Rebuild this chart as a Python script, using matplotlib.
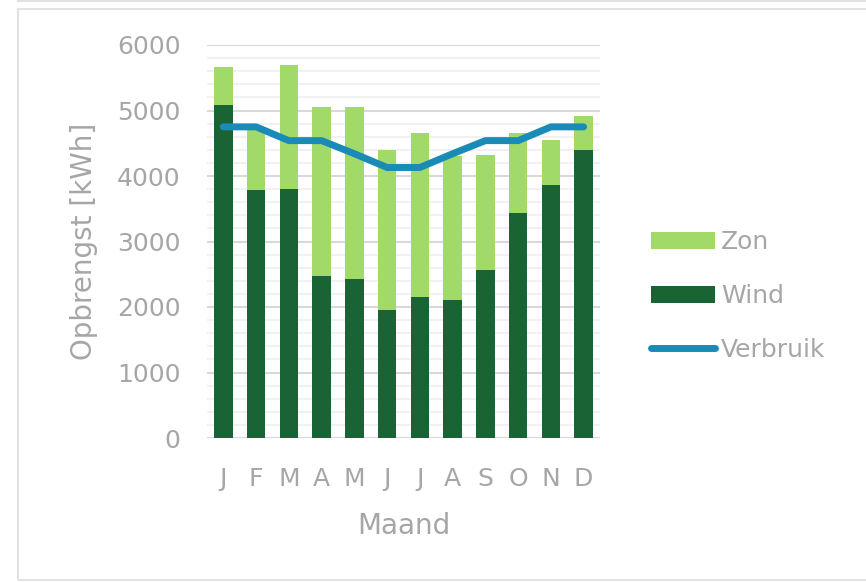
import matplotlib.pyplot as plt
import numpy as np
from matplotlib.patches import Rectangle
from matplotlib.lines import Line2D

plt.rcParams["font.family"] = ["DejaVu Sans"]

MAANDEN = ["J", "F", "M", "A", "M", "J", "J", "A", "S", "O", "N", "D"]
WIND = [5080, 3790, 3800, 2480, 2430, 1950, 2160, 2100, 2560, 3430, 3870, 4400]
TOTAAL = [5660, 4720, 5690, 5060, 5060, 4400, 4660, 4300, 4320, 4660, 4550, 4910]
ZON = [t - w for t, w in zip(TOTAAL, WIND)]
VERBRUIK = [4750, 4750, 4540, 4540, 4340, 4130, 4130, 4340, 4540, 4540, 4750, 4750]

GRIJS = "#a6a6a6"
LICHTGROEN = "#a2da6a"
DONKERGROEN = "#1a6334"
BLAUW = "#1a8bb6"

W, H = 866, 582
fig = plt.figure(figsize=(W / 100, H / 100), dpi=100)

# kader rond de grafiek
fig.add_artist(Line2D([18 / W, 1], [1 - 0.8 / H, 1 - 0.8 / H], color="#e2e2e2", lw=1.5))
fig.add_artist(
    Rectangle((18 / W, 2 / H), 1.0, (H - 11) / H, fill=False, edgecolor="#e2e2e2", lw=1.5)
)

ax = fig.add_axes([207 / W, 1 - 438 / H, (600 - 207) / W, (438 - 45) / H])

x = np.arange(len(MAANDEN))
h_wind = ax.bar(x, WIND, width=0.56, color=DONKERGROEN, zorder=3)
h_zon = ax.bar(x, ZON, width=0.56, bottom=WIND, color=LICHTGROEN, zorder=3)
(h_verbruik,) = ax.plot(x, VERBRUIK, color=BLAUW, lw=5, solid_capstyle="round",
                        solid_joinstyle="round", zorder=4)

ax.set_xlim(-0.5, 11.5)
ax.set_ylim(0, 6000)
ax.set_yticks(np.arange(0, 6001, 1000))
ax.set_yticks(np.arange(0, 6001, 200), minor=True)
ax.grid(axis="y", which="major", color="#d9d9d9", lw=1.5, zorder=0)
ax.grid(axis="y", which="minor", color="#efefef", lw=1.2, zorder=0)
ax.set_xticks(x, MAANDEN)

for s in ax.spines.values():
    s.set_visible(False)
ax.tick_params(axis="both", which="both", length=0, colors=GRIJS, labelsize=18)
ax.tick_params(axis="y", pad=19)
ax.tick_params(axis="x", pad=21)

ax.set_xlabel("Maand", color=GRIJS, fontsize=20, labelpad=15)
ax.set_ylabel("Opbrengst [kWh]", color=GRIJS, fontsize=20, labelpad=14)

leg = fig.legend(
    [h_zon, h_wind, h_verbruik],
    ["Zon", "Wind", "Verbruik"],
    loc="center left",
    bbox_to_anchor=(651 / W, 1 - 296 / H),
    frameon=False,
    fontsize=18,
    handlelength=2.55,
    handletextpad=0.25,
    labelspacing=1.2,
    borderpad=0,
    borderaxespad=0,
)
for t in leg.get_texts():
    t.set_color(GRIJS)

fig.savefig("out.png", dpi=100)
